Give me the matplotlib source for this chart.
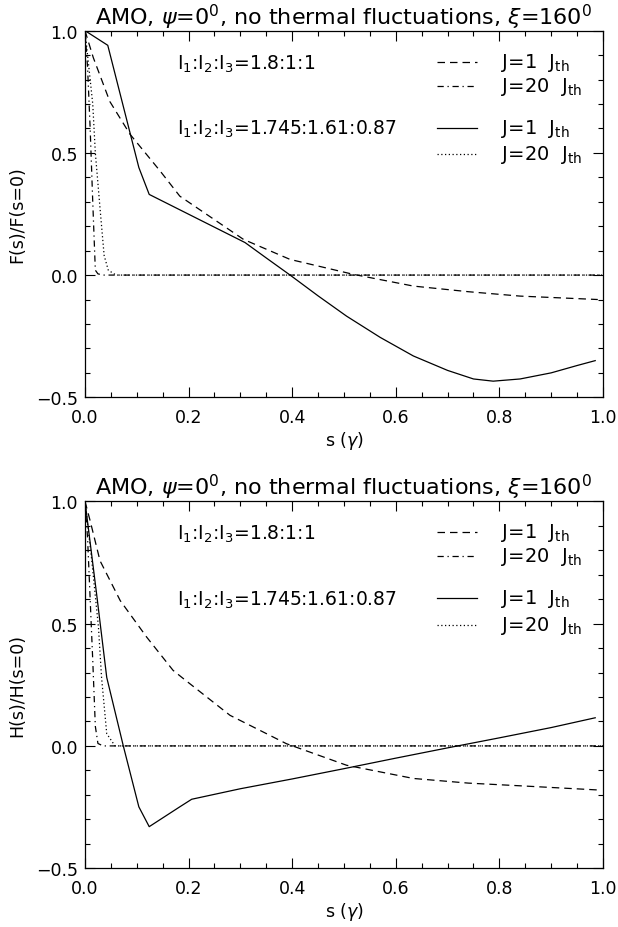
import numpy as np
import matplotlib
matplotlib.use("Agg")
import matplotlib.pyplot as plt
from matplotlib.ticker import MultipleLocator, FuncFormatter

plt.rcParams["font.family"] = ["DejaVu Sans"]
plt.rcParams["mathtext.fontset"] = "dejavusans"

# ---- data ----
# top panel: F(s)/F(s=0)
f_s_a1 = [0.0, 0.016, 0.048, 0.087, 0.145, 0.183, 0.306, 0.396, 0.518, 0.634, 0.74, 0.84, 0.99]
f_v_a1 = [1.0, 0.89, 0.71, 0.576, 0.426, 0.323, 0.146, 0.064, 0.003, -0.045, -0.068, -0.086, -0.1]
f_s_a20 = [0.0, 0.005, 0.01, 0.015, 0.02, 0.025, 0.035, 1.0]
f_v_a20 = [1.0, 0.85, 0.6, 0.3, 0.02, 0.005, 0.0, 0.0]
f_s_b1 = [0.0, 0.044, 0.104, 0.124, 0.309, 0.35, 0.396, 0.45, 0.505, 0.57, 0.634,
          0.7, 0.75, 0.788, 0.84, 0.9, 0.95, 0.985]
f_v_b1 = [1.0, 0.94, 0.44, 0.33, 0.133, 0.07, 0.0, -0.085, -0.168, -0.255, -0.331,
          -0.39, -0.425, -0.434, -0.425, -0.40, -0.37, -0.35]
f_s_b20 = [0.0, 0.005, 0.015, 0.02, 0.03, 0.037, 0.045, 0.06, 1.0]
f_v_b20 = [1.0, 0.9, 0.7, 0.5, 0.25, 0.08, 0.02, 0.0, 0.0]

# bottom panel: H(s)/H(s=0)
h_s_a1 = [0.0, 0.01, 0.029, 0.068, 0.119, 0.17, 0.19, 0.28, 0.389, 0.505, 0.634, 0.74, 0.84, 0.99]
h_v_a1 = [1.0, 0.92, 0.757, 0.594, 0.445, 0.309, 0.275, 0.125, 0.009, -0.079, -0.133, -0.152, -0.163, -0.18]
h_s_a20 = [0.0, 0.005, 0.01, 0.015, 0.02, 0.025, 0.035, 1.0]
h_v_a20 = [1.0, 0.85, 0.6, 0.35, 0.08, 0.01, 0.0, 0.0]
h_s_b1 = [0.0, 0.0225, 0.042, 0.074, 0.104, 0.124, 0.183, 0.206, 0.3, 0.4, 0.5,
          0.6, 0.7, 0.8, 0.9, 0.985]
h_v_b1 = [1.0, 0.62, 0.28, 0.0, -0.249, -0.33, -0.249, -0.218, -0.175, -0.135, -0.093,
          -0.05, -0.008, 0.033, 0.075, 0.115]
h_s_b20 = [0.0, 0.013, 0.026, 0.032, 0.042, 0.058, 1.0]
h_v_b20 = [1.0, 0.76, 0.486, 0.28, 0.05, 0.0, 0.0]

title = r"AMO, $\psi$=0$^0$, no thermal fluctuations, $\xi$=160$^0$"
ratio_a = r"I$_1$:I$_2$:I$_3$=1.8:1:1"
ratio_b = r"I$_1$:I$_2$:I$_3$=1.745:1.61:0.87"
legend_labels = [r"J=1  J$_{\rm th}$", r"J=20  J$_{\rm th}$",
                 r"J=1  J$_{\rm th}$", r"J=20  J$_{\rm th}$"]

dash = (0, (6, 4))
dashdot = (0, (5, 3, 1, 3))
dotted = (0, (1, 2))
lw = 0.9

fmt = FuncFormatter(lambda v, p: ("%.1f" % v).replace("-", "\u2212"))

fig = plt.figure(figsize=(6.18, 9.28), dpi=100)
ax_top = fig.add_axes([0.1375, 0.5708, 0.8382, 0.3951])
ax_bot = fig.add_axes([0.1375, 0.0633, 0.8382, 0.3955])


def panel(ax, data, ylabel):
    (sa1, va1), (sa20, va20), (sb1, vb1), (sb20, vb20) = data
    ax.plot(sa1, va1, color="k", lw=lw, ls=dash)
    ax.plot(sa20, va20, color="k", lw=lw, ls=dashdot)
    ax.plot(sb1, vb1, color="k", lw=lw, ls="-")
    ax.plot(sb20, vb20, color="k", lw=lw, ls=dotted)

    ax.set_xlim(0, 1.0)
    ax.set_ylim(-0.5, 1.0)
    ax.xaxis.set_major_locator(MultipleLocator(0.2))
    ax.xaxis.set_minor_locator(MultipleLocator(0.05))
    ax.yaxis.set_major_locator(MultipleLocator(0.5))
    ax.yaxis.set_minor_locator(MultipleLocator(0.1))
    ax.xaxis.set_major_formatter(fmt)
    ax.yaxis.set_major_formatter(fmt)
    ax.tick_params(which="both", direction="in", top=True, right=True,
                   width=0.8, labelsize=12.5)
    ax.tick_params(axis="x", pad=8)
    ax.tick_params(axis="y", pad=5)
    ax.tick_params(which="major", length=7)
    ax.tick_params(which="minor", length=3.5)
    for sp in ax.spines.values():
        sp.set_linewidth(0.9)

    ax.set_title(title, fontsize=16, pad=5)
    ax.set_xlabel(r"s ($\gamma$)", fontsize=12.5, labelpad=2)
    ax.set_ylabel(ylabel, fontsize=12.5, labelpad=7)

    ax.text(0.177, 0.868, ratio_a, fontsize=13.5, va="center")
    ax.text(0.177, 0.600, ratio_b, fontsize=13.5, va="center")

    styles = [dash, dashdot, "-", dotted]
    ys = [0.873, 0.775, 0.603, 0.495]
    for st, y, lab in zip(styles, ys, legend_labels):
        ax.plot([0.68, 0.756], [y, y], color="k", lw=lw, ls=st)
        ax.text(0.804, y, lab, fontsize=14, va="center")


panel(ax_top, [(f_s_a1, f_v_a1), (f_s_a20, f_v_a20), (f_s_b1, f_v_b1), (f_s_b20, f_v_b20)],
      "F(s)/F(s=0)")
panel(ax_bot, [(h_s_a1, h_v_a1), (h_s_a20, h_v_a20), (h_s_b1, h_v_b1), (h_s_b20, h_v_b20)],
      "H(s)/H(s=0)")

fig.savefig("out.png", dpi=100)
